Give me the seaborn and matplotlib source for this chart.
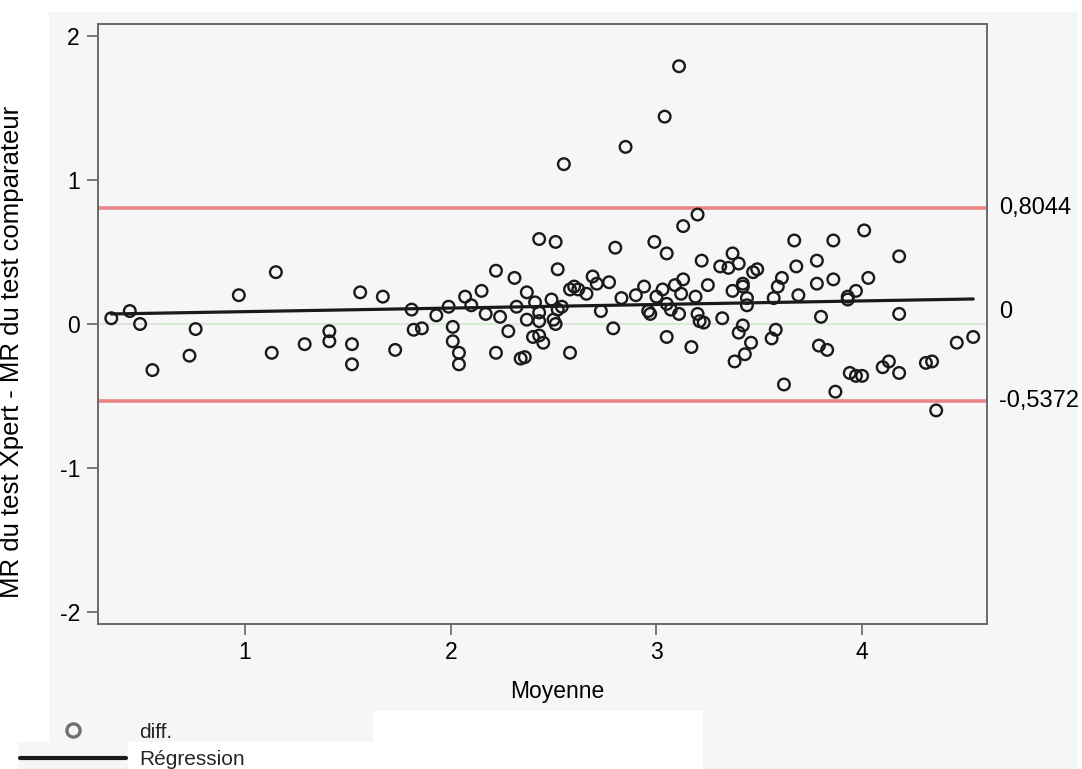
import numpy as np
import pandas as pd
import matplotlib
matplotlib.use("Agg")
import matplotlib.pyplot as plt
from matplotlib.patches import Rectangle
from matplotlib.lines import Line2D
import matplotlib.transforms as mtransforms
import seaborn as sns

# Bland-Altman data: mean of the two methods vs. difference (Xpert - comparator)
moyenne = [
    0.35, 0.44, 0.49, 0.55, 0.73, 0.76, 0.97, 1.13, 1.15, 1.29,
    1.41, 1.41, 1.52, 1.52, 1.56, 1.67, 1.73, 1.81, 1.82, 1.86,
    1.93, 1.99, 2.01, 2.01, 2.04, 2.04, 2.07, 2.10, 2.15, 2.17,
    2.22, 2.22, 2.24, 2.28, 2.31, 2.32, 2.34, 2.36, 2.37, 2.37,
    2.40, 2.41, 2.43, 2.43, 2.43, 2.45, 2.43, 2.49, 2.51, 2.52,
    2.50, 2.51, 2.52, 2.54, 2.58, 2.58, 2.60, 2.62, 2.66, 2.69,
    2.71, 2.73, 2.77, 2.79, 2.80, 2.83, 2.90, 2.94, 2.96, 2.97,
    2.99, 3.00, 3.03, 3.05, 3.05, 3.05, 3.07, 3.09, 3.11, 3.12,
    3.13, 3.13, 3.17, 3.19, 3.20, 3.20, 3.21, 3.23, 3.22, 3.25,
    3.31, 3.32, 3.35, 3.37, 3.37, 3.40, 3.38, 3.40, 3.42, 3.42,
    3.42, 3.44, 3.44, 3.43, 3.46, 3.47, 3.49, 3.57, 3.56, 3.58,
    3.59, 3.61, 3.62, 3.67, 3.68, 3.69, 3.78, 3.78, 3.80, 3.79,
    3.83, 3.86, 3.86, 3.87, 3.93, 3.93, 3.97, 4.01, 4.03, 3.94,
    3.97, 4.00, 4.10, 4.13, 4.18, 4.18, 4.18, 4.31, 4.34, 4.36,
    4.46, 4.54, 3.11, 3.04, 2.85, 2.55,
]
difference = [
    0.04, 0.09, 0.00, -0.32, -0.22, -0.035, 0.20, -0.20, 0.36, -0.14,
    -0.05, -0.12, -0.14, -0.28, 0.22, 0.19, -0.18, 0.10, -0.04, -0.03,
    0.06, 0.12, -0.02, -0.12, -0.20, -0.28, 0.19, 0.13, 0.23, 0.07,
    -0.20, 0.37, 0.05, -0.05, 0.32, 0.12, -0.24, -0.23, 0.22, 0.03,
    -0.09, 0.15, 0.59, 0.08, -0.08, -0.13, 0.02, 0.17, 0.57, 0.38,
    0.03, 0.00, 0.10, 0.12, -0.20, 0.24, 0.26, 0.24, 0.21, 0.33,
    0.28, 0.09, 0.29, -0.03, 0.53, 0.18, 0.20, 0.26, 0.09, 0.07,
    0.57, 0.19, 0.24, 0.49, 0.14, -0.09, 0.10, 0.27, 0.07, 0.21,
    0.31, 0.68, -0.16, 0.19, 0.76, 0.07, 0.02, 0.01, 0.44, 0.27,
    0.40, 0.04, 0.39, 0.23, 0.49, 0.42, -0.26, -0.06, -0.01, 0.28,
    0.26, 0.18, 0.13, -0.21, -0.13, 0.36, 0.38, 0.18, -0.10, -0.04,
    0.26, 0.32, -0.42, 0.58, 0.40, 0.20, 0.44, 0.28, 0.05, -0.15,
    -0.18, 0.58, 0.31, -0.47, 0.19, 0.17, 0.23, 0.65, 0.32, -0.34,
    -0.36, -0.36, -0.30, -0.26, 0.47, 0.07, -0.34, -0.27, -0.26, -0.60,
    -0.13, -0.09, 1.79, 1.44, 1.23, 1.11,
]

# Limits of agreement
upper_loa = 0.8044
lower_loa = -0.5372
right_labels = ["0,8044", "0", "-0,5372"]
x_ticks = [1, 2, 3, 4]
y_ticks = [-2, -1, 0, 1, 2]

df = pd.DataFrame({"Moyenne": moyenne, "diff": difference})

sns.set_theme(style="white")
plt.rcParams["font.family"] = ["Liberation Sans", "DejaVu Sans"]

W, H = 1082, 769
fig = plt.figure(figsize=(W / 100, H / 100), dpi=100, facecolor="white")

BG = "#f6f6f6"


def px_rect(x0, y0, x1, y1, color):
    fig.patches.append(Rectangle((x0 / W, 1 - y1 / H), (x1 - x0) / W, (y1 - y0) / H,
                                 transform=fig.transFigure, facecolor=color,
                                 edgecolor="none", zorder=-10))


# panel background
px_rect(49, 12, 1078, 742, BG)
px_rect(703, 742, 1078, 769, BG)
px_rect(18, 742, 128, 769, BG)
px_rect(373, 711, 703, 769, "white")

ax = fig.add_axes([98 / W, 1 - 624 / H, (987 - 98) / W, 600 / H])
ax.set_facecolor(BG)

# reference lines
ax.axhline(0, color="#d5e6d2", lw=1.2, zorder=1)
ax.axhline(upper_loa, color="#e98585", lw=2.6, zorder=1)
ax.axhline(lower_loa, color="#e98585", lw=2.6, zorder=1)

sns.scatterplot(data=df, x="Moyenne", y="diff", ax=ax, marker="o", s=70,
                facecolor="none", edgecolor="#1a1a1a", linewidth=1.7, zorder=3,
                legend=False)
sns.regplot(data=df, x="Moyenne", y="diff", ax=ax, scatter=False, ci=None,
            truncate=True, line_kws={"color": "#1a1a1a", "lw": 2.3, "zorder": 4})

ax.set_xlim(0.2854, 4.607)
ax.set_ylim(-2.0833, 2.0833)
ax.set_xticks(x_ticks)
ax.set_yticks(y_ticks)
ax.set_xticklabels([str(v) for v in x_ticks])
ax.set_yticklabels([str(v) for v in y_ticks])

for sp in ax.spines.values():
    sp.set_visible(True)
    sp.set_color("#6a6a6a")
    sp.set_linewidth(1.4)

ax.tick_params(axis="both", which="major", direction="out", length=8, width=1.4,
               color="#7a7a7a", labelsize=16.5, labelcolor="black",
               left=True, bottom=True)
ax.tick_params(axis="y", pad=5)
ax.tick_params(axis="x", pad=4)

ax.set_xlabel("Moyenne", fontsize=16.5, color="black")
ax.set_ylabel("MR du test Xpert - MR du test comparateur", fontsize=18.5, color="black")
ax.xaxis.set_label_coords((557 - 98) / 889, -(680 - 624) / 600)
ax.yaxis.set_label_coords(-(98 - 24) / 889, (624 - 352) / 600)

# labels for the limits of agreement, on the right of the plot
trans = mtransforms.blended_transform_factory(ax.transAxes, ax.transData)
for label, yv in zip(right_labels, [upper_loa, 0.08, lower_loa]):
    ax.text(1.0 + 12 / 889, yv, label, transform=trans, ha="left", va="center",
            fontsize=17, color="black")

handles = [
    Line2D([], [], marker="o", linestyle="none", markerfacecolor="none",
           markeredgecolor="#707070", markeredgewidth=2.4, markersize=9.5),
    Line2D([], [], color="#1a1a1a", lw=3),
]
fig.legend(handles, ["diff.", "Régression"], loc="center left",
           bbox_to_anchor=(20 / W, 1 - 746 / H), frameon=False, fontsize=15,
           handlelength=5.1, handletextpad=0.62, borderpad=0, labelspacing=0.42,
           borderaxespad=0)

fig.savefig("out.png", dpi=100, facecolor="white")
